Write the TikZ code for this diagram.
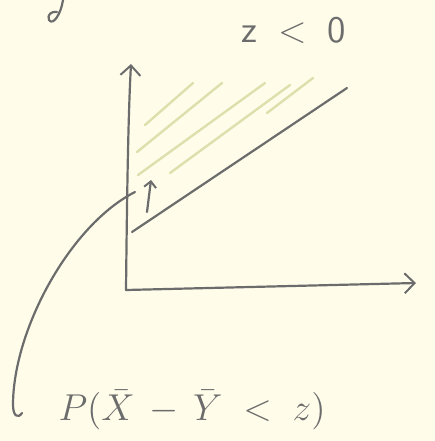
\documentclass[tikz,border=0pt]{standalone}
\usepackage{amsmath}
\usetikzlibrary{arrows.meta, positioning}
\definecolor{paper}{RGB}{255,253,234}
\definecolor{pencil}{RGB}{108,108,108}
\definecolor{hatchcol}{RGB}{220,224,172}

\begin{document}
\begin{tikzpicture}[x=1pt, y=-1pt,
  pen/.style={line width=2.2pt, pencil, line cap=round, line join=round},
  axis/.style={pen, -{Straight Barb[length=10pt, width=20pt, line width=2pt]}},
  hatch/.style={line width=2.4pt, draw=hatchcol, line cap=round},
  label/.style={pencil, font=\Large\sffamily, inner sep=0pt, scale=2.6}
]
\fill[paper] (0,0) rectangle (435,441);
\useasboundingbox (0,0) rectangle (435,441);

% axes
\coordinate (origin) at (126,290);
\coordinate (ytop) at (131,64);
\coordinate (xend) at (416,283);
\draw[axis] (origin) .. controls (127,200) and (128,120) .. (ytop);
\draw[axis] (origin) -- (xend);

% shaded region above the line
\draw[hatch] (145,125) -- (193,83);
\draw[hatch] (137,152) -- (222,83);
\draw[hatch] (138,175) -- (265,83);
\draw[hatch] (170,173) -- (290,85);
\draw[hatch] (267,113) -- (313,78);

% the line z < 0
\coordinate (lstart) at (132,232);
\coordinate (lend) at (347,88);
\draw[pen] (lstart) -- (lend);

% small arrow into the region
\coordinate (afoot) at (147,212);
\coordinate (ahead) at (151,180);
\draw[pen, -{Straight Barb[length=6pt, width=12pt, line width=2pt]}] (afoot) -- (ahead);

% distribution curve
\coordinate (cfoot) at (13,405);
\coordinate (ctop) at (135,192);
\draw[pen] (22,413) .. controls (18,419) and (13,416) .. (cfoot)
  .. controls (13,330) and (70,225) .. (ctop);

% cut-off letter at the top edge
\draw[pen] (63,0) .. controls (61,14) and (53,26) .. (49,20)
  .. controls (47,15) and (51,11) .. (57,12);

% labels
\node[label] (zlabel) at (294,30) {z\;\;<\;\;0};
\node[label, anchor=west] (plabel) at (58,410) {$P(\bar{X}\,-\,\bar{Y}\;<\;z)$};
\end{tikzpicture}
\end{document}
